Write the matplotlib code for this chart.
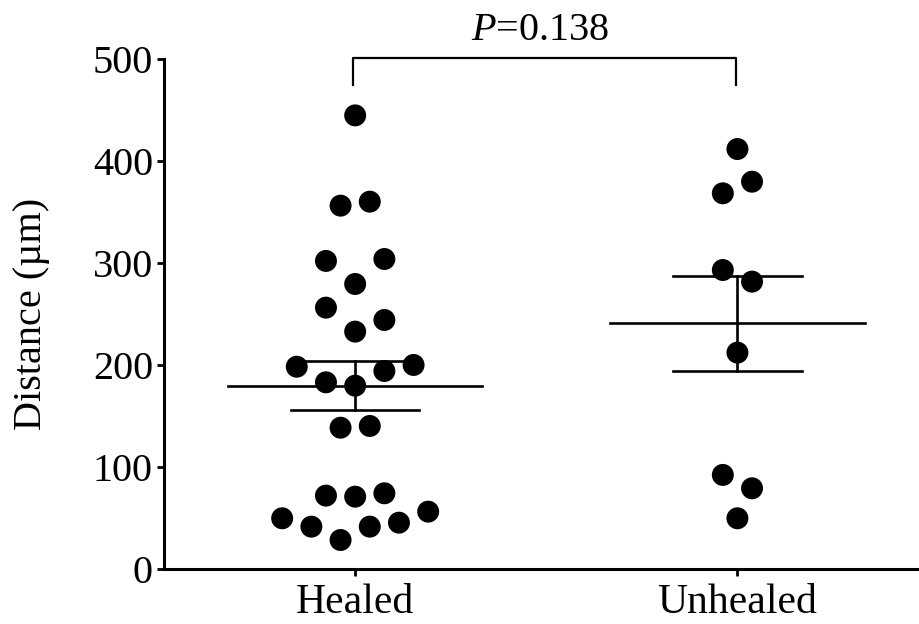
import numpy as np
import matplotlib
matplotlib.use("Agg")
import matplotlib.pyplot as plt

plt.rcParams["font.family"] = ["Liberation Serif", "DejaVu Serif"]
plt.rcParams["mathtext.fontset"] = "custom"
plt.rcParams["mathtext.rm"] = "Liberation Serif"
plt.rcParams["mathtext.it"] = "Liberation Serif:italic"

groups = ["Healed", "Unhealed"]
healed = [445, 356.5, 360.4, 302.3, 304.2, 279.7, 256.5, 244.4, 233, 198.6, 200.3, 194.4,
          183.3, 180, 138.8, 140.5, 72.2, 71.2, 74.5, 50, 41.8, 28.7, 41.8, 45.7, 56.5]
healed_slot = [0, -1, 1, -2, 2, 0, -2, 2, 0, -4, 4, 2, -2, 0, -1, 1, -2, 0, 2, -5, -3, -1, 1, 3, 5]
unhealed = [412, 380, 368.6, 293.4, 282, 212.4, 92.5, 79.4, 50]
unhealed_slot = [0, 1, -1, -1, 1, 0, -1, 1, 0]
p_text = "=0.138"
yticks = [0, 100, 200, 300, 400, 500]

SLOT = 0.0382
BLACK = "black"

fig = plt.figure(figsize=(9.19, 6.24), dpi=100)
ax = fig.add_axes([0.1785, 0.0877, 0.8215, 0.8173])

for i, (values, slots) in enumerate([(healed, healed_slot), (unhealed, unhealed_slot)], start=1):
    values = np.asarray(values, dtype=float)
    xs = i + np.asarray(slots) * SLOT
    ax.scatter(xs, values, s=250, color=BLACK, edgecolors="none", zorder=3)

    # mean with SEM bars
    m = values.mean()
    sem = values.std(ddof=1) / np.sqrt(len(values))
    ax.plot([i - 0.333, i + 0.333], [m, m], color=BLACK, lw=1.9, zorder=4)
    ax.plot([i - 0.168, i + 0.168], [m + sem, m + sem], color=BLACK, lw=1.9, zorder=4)
    ax.plot([i - 0.168, i + 0.168], [m - sem, m - sem], color=BLACK, lw=1.9, zorder=4)
    ax.plot([i, i], [m - sem, m + sem], color=BLACK, lw=1.9, zorder=4)

# significance bracket
ax.plot([0.995, 0.995, 1.995, 1.995], [475, 501, 501, 475], color=BLACK, lw=1.6, clip_on=False)
ax.text(1.485, 519, r"$P$" + p_text, ha="center", va="baseline", fontsize=29)

ax.set_xlim(0.5, 2.475)
ax.set_ylim(0, 500)
ax.set_xticks([1, 2], groups)
ax.set_yticks(yticks)
ax.tick_params(axis="both", labelsize=29, width=2, length=5, direction="out", pad=3, color=BLACK)
ax.tick_params(axis="x", labelsize=30, pad=5)
ax.set_ylabel("Distance (µm)", fontsize=29, labelpad=31)

for side in ["top", "right"]:
    ax.spines[side].set_visible(False)
for side in ["left", "bottom"]:
    ax.spines[side].set_linewidth(2.2)

fig.savefig("out.png", dpi=100)
